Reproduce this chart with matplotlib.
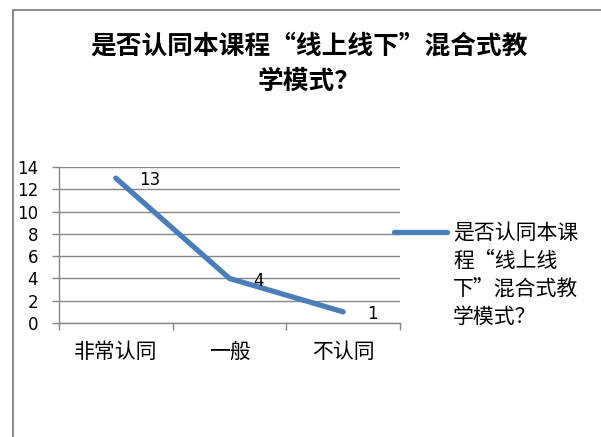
import matplotlib
matplotlib.use("Agg")
import matplotlib.pyplot as plt
from matplotlib.lines import Line2D

categories = ["非常认同", "一般", "不认同"]
values = [13, 4, 1]
series_name = "是否认同本课程“线上线下”混合式教学模式？"
title_text = "是否认同本课程“线上线下”混合式教\n学模式？"
legend_text = "是否认同本课\n程“线上线\n下”混合式教\n学模式？"
yticks = [0, 2, 4, 6, 8, 10, 12, 14]

CJK = ["Noto Sans CJK SC", "DejaVu Sans"]
W, H = 601, 437
fig = plt.figure(figsize=(W / 100, H / 100), dpi=100, facecolor="white")

def fx(px):
    return px / W

def fy(py):
    return 1 - py / H

ax = fig.add_axes([fx(59), fy(323), fx(400) - fx(59), fy(167) - fy(323)])
ax.set_facecolor("white")

grid_c = "#868686"
line_c = "#4A7EBB"

x = list(range(len(categories)))
ax.plot(x, values, color=line_c, lw=3.8, solid_capstyle="round", solid_joinstyle="round", zorder=3)

for xi, v in zip(x, values):
    ax.annotate(str(v), (xi, v), xytext=(17, -1.5), textcoords="offset points",
                ha="left", va="center", fontsize=12, family="DejaVu Sans", color="black")

ax.set_xlim(-0.5, len(categories) - 0.5)
ax.set_ylim(0, 14)
ax.set_yticks(yticks)
ax.set_yticklabels([str(t) for t in yticks], fontsize=12, family="DejaVu Sans")
ax.yaxis.grid(True, color=grid_c, lw=1.0)
ax.set_axisbelow(True)

# category boundaries as major ticks, labels at centres as minor ticks
ax.set_xticks([i - 0.5 for i in range(len(categories) + 1)])
ax.set_xticklabels([""] * (len(categories) + 1))
ax.set_xticks(x, minor=True)
ax.set_xticklabels(categories, minor=True, fontsize=15, family=CJK)
ax.tick_params(axis="x", which="major", direction="out", length=5, width=1, color=grid_c)
ax.tick_params(axis="x", which="minor", length=0, pad=13)
ax.tick_params(axis="y", direction="out", length=5, width=1, color=grid_c, pad=10)

for s in ["top", "right"]:
    ax.spines[s].set_visible(False)
for s in ["left", "bottom"]:
    ax.spines[s].set_color(grid_c)
    ax.spines[s].set_linewidth(1.0)

# title
fig.text(fx(309), fy(33), title_text, ha="center", va="top", fontsize=18.5,
         fontweight="bold", family=CJK, linespacing=1.36)

# legend (manual)
fig.add_artist(Line2D([fx(394), fx(447)], [fy(232), fy(232)], color=line_c, lw=3.8,
                      solid_capstyle="round", transform=fig.transFigure))
fig.text(fx(453), fy(222), legend_text, ha="left", va="top", fontsize=15,
         family=CJK, linespacing=1.36)

# chart area frame
fig.add_artist(Line2D([fx(13), fx(13), 1.01], [-0.01, fy(10), fy(10)],
                      color="#8c8c8c", lw=1.5, transform=fig.transFigure))

fig.savefig("out.png", dpi=100, facecolor="white")
